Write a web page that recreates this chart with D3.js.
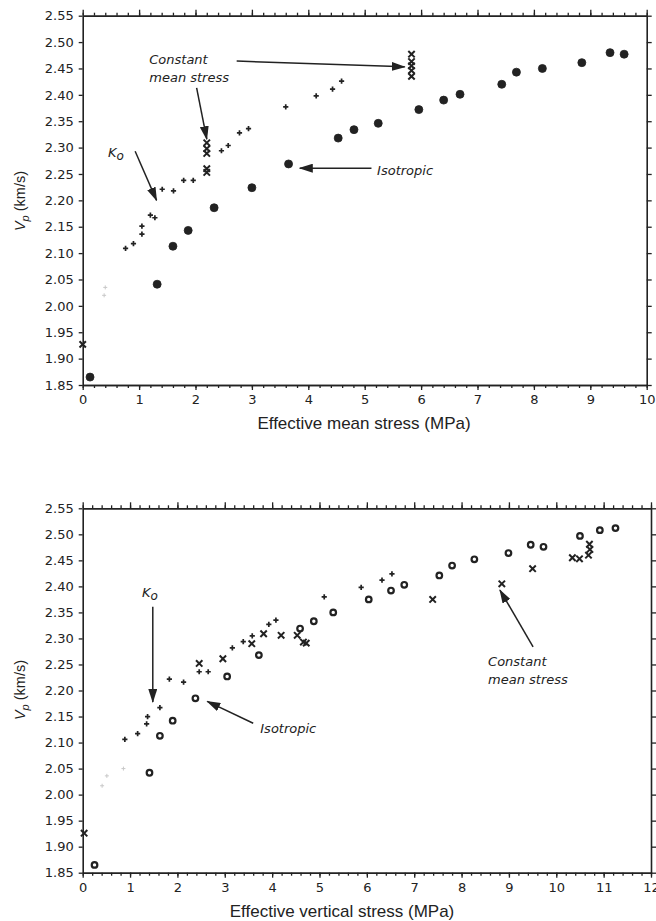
<!DOCTYPE html>
<html>
<head>
<meta charset="utf-8">
<script src="https://cdn.jsdelivr.net/npm/d3@7"></script>
<style>
  body { margin: 0; background: #fff; }
  svg { display: block; }
  .tick text { font-family: "DejaVu Sans", sans-serif; font-size: 13px; fill: #222; }
  .note { font-family: "DejaVu Sans", sans-serif; font-style: italic; font-size: 13px; fill: #222; }
  .title { font-family: "Liberation Sans", Arial, sans-serif; font-size: 17px; fill: #222; }
  .ytitle { font-family: "Liberation Sans", Arial, sans-serif; font-size: 14.5px; fill: #222; }
</style>
</head>
<body>
<svg id="chart" width="656" height="921"></svg>
<script>
// ---- shared ticks ----
const yTicks = d3.range(185, 256, 5).map(v => v / 100);   // 1.85 .. 2.55

// ---- top panel: Vp vs effective mean stress ----
const meanIsotropic = [
  [0.13, 1.865], [1.32, 2.041], [1.60, 2.113], [1.87, 2.143], [2.33, 2.186],
  [3.00, 2.224], [3.65, 2.269], [4.53, 2.318], [4.81, 2.334], [5.24, 2.346],
  [5.96, 2.372], [6.40, 2.390], [6.69, 2.401], [7.43, 2.420], [7.69, 2.443],
  [8.15, 2.450], [8.85, 2.461], [9.35, 2.480], [9.60, 2.477]
];
const meanKo = [
  [0.76, 2.109], [0.90, 2.118], [1.05, 2.136], [1.05, 2.151], [1.20, 2.172],
  [1.28, 2.167], [1.41, 2.221], [1.61, 2.218], [1.79, 2.238], [1.96, 2.238],
  [2.46, 2.294], [2.58, 2.304], [2.78, 2.328], [2.94, 2.336], [3.60, 2.377],
  [4.14, 2.398], [4.43, 2.411], [4.59, 2.426]
];
const meanKoFaint = [[0.40, 2.035], [0.38, 2.020]];
const meanConstant = [
  [0.00, 1.927],
  [2.20, 2.309], [2.20, 2.298], [2.20, 2.289], [2.20, 2.260], [2.20, 2.253],
  [5.83, 2.477], [5.83, 2.463], [5.83, 2.455], [5.83, 2.446], [5.83, 2.435]
];

// ---- bottom panel: Vp vs effective vertical stress ----
const vertIsotropic = [
  [0.25, 1.865], [1.41, 2.042], [1.63, 2.113], [1.90, 2.142], [2.38, 2.185],
  [3.05, 2.227], [3.72, 2.268], [4.59, 2.319], [4.88, 2.333], [5.29, 2.350],
  [6.04, 2.375], [6.51, 2.392], [6.79, 2.403], [7.53, 2.421], [7.80, 2.440],
  [8.27, 2.452], [8.99, 2.464], [9.46, 2.480], [9.73, 2.476], [10.50, 2.497],
  [10.92, 2.508], [11.25, 2.512]
];
const vertKo = [
  [0.89, 2.106], [1.16, 2.117], [1.35, 2.136], [1.37, 2.150], [1.63, 2.167],
  [1.83, 2.222], [2.13, 2.216], [2.46, 2.236], [2.65, 2.236], [3.16, 2.282],
  [3.39, 2.294], [3.58, 2.305], [3.93, 2.327], [4.08, 2.335], [5.10, 2.380],
  [5.88, 2.398], [6.32, 2.412], [6.53, 2.424]
];
const vertKoFaint = [[0.86, 2.050], [0.51, 2.036], [0.41, 2.017]];
const vertConstant = [
  [0.03, 1.926], [2.46, 2.252], [2.96, 2.261], [3.57, 2.290], [3.82, 2.309],
  [4.19, 2.306], [4.53, 2.306], [4.66, 2.293], [4.72, 2.291], [7.39, 2.375],
  [8.85, 2.405], [9.50, 2.434], [10.34, 2.455], [10.49, 2.453], [10.68, 2.460],
  [10.71, 2.471], [10.70, 2.481]
];

// annotations, in data units: text lines and arrows [from, to]
const meanNotes = [
  { lines: ['Constant', 'mean stress'], at: [1.18, 2.458], lead: 18 },
  { lines: ['Isotropic'], at: [5.22, 2.248], lead: 0 }
];
const meanArrows = [
  [[2.02, 2.413], [2.20, 2.316]],
  [[2.73, 2.464], [5.71, 2.453]],
  [[0.93, 2.293], [1.31, 2.200]],
  [[5.12, 2.261], [3.85, 2.261]]
];
const vertNotes = [
  { lines: ['Constant', 'mean stress'], at: [8.56, 2.247], lead: 18 },
  { lines: ['Isotropic'], at: [3.75, 2.118], lead: 0 }
];
const vertArrows = [
  [[1.48, 2.361], [1.48, 2.178]],
  [[3.60, 2.137], [2.63, 2.179]],
  [[9.51, 2.284], [8.81, 2.393]]
];

const ink = '#222';
const svg = d3.select('#chart');

svg.append('defs').append('marker')
  .attr('id', 'head')
  .attr('viewBox', '0 0 14 9')
  .attr('refX', 13).attr('refY', 4.5)
  .attr('markerWidth', 14).attr('markerHeight', 9)
  .attr('markerUnits', 'userSpaceOnUse')
  .attr('orient', 'auto')
  .append('path').attr('d', 'M0,0L14,4.5L0,9Z').attr('fill', ink);

function drawPanel(p) {
  const g = svg.append('g');
  const x = d3.scaleLinear().domain([0, p.xMax]).range([p.left, p.right]);
  const y = d3.scaleLinear().domain([1.85, 2.55]).range([p.bottom, p.top]);
  const major = d3.range(0, p.xMax + 1);
  const minor = d3.range(0, p.xMax * 5 + 1).map(i => i / 5);

  const style = sel => {
    sel.selectAll('line').attr('stroke', ink).attr('stroke-width', 1.3);
    sel.select('.domain').attr('stroke', ink).attr('stroke-width', 1.6);
  };

  g.append('g').attr('transform', `translate(${p.left},0)`)
    .call(d3.axisLeft(y).tickValues(yTicks).tickFormat(d3.format('.2f')).tickSize(4).tickSizeOuter(0).tickPadding(5))
    .call(style);
  g.append('g').attr('transform', `translate(${p.right},0)`)
    .call(d3.axisRight(y).tickValues(yTicks).tickFormat('').tickSize(5).tickSizeOuter(0))
    .call(style);
  g.append('g').attr('transform', `translate(0,${p.bottom})`)
    .call(d3.axisBottom(x).tickValues(minor).tickFormat('').tickSize(3).tickSizeOuter(0))
    .call(style);
  g.append('g').attr('transform', `translate(0,${p.bottom})`)
    .call(d3.axisBottom(x).tickValues(major).tickFormat(d3.format('d')).tickSize(5).tickSizeOuter(0).tickPadding(5))
    .call(style);
  g.append('g').attr('transform', `translate(0,${p.top})`)
    .call(d3.axisTop(x).tickValues(minor).tickFormat('').tickSize(3).tickSizeOuter(0))
    .call(style);
  g.append('g').attr('transform', `translate(0,${p.top})`)
    .call(d3.axisTop(x).tickValues(major).tickFormat('').tickSize(6).tickSizeOuter(0))
    .call(style);

  // titles
  g.append('text').attr('class', 'title')
    .attr('x', p.titleX).attr('y', p.bottom + 44)
    .attr('text-anchor', 'middle').text(p.xTitle);
  const yt = g.append('text').attr('class', 'ytitle')
    .attr('transform', `translate(25,${p.yTitleY}) rotate(-90)`)
    .attr('text-anchor', 'middle');
  yt.append('tspan').attr('font-style', 'italic').text('V');
  yt.append('tspan').attr('font-style', 'italic').attr('font-size', 11).attr('dy', 4).text('p');
  yt.append('tspan').attr('dy', -4).text(' (km/s)');

  // series
  const pts = g.append('g');
  pts.selectAll('.iso').data(p.iso).join('circle')
    .attr('cx', d => x(d[0])).attr('cy', d => y(d[1]))
    .attr('r', p.isoOpen ? 2.8 : 4)
    .attr('fill', p.isoOpen ? '#fff' : ink)
    .attr('stroke', ink).attr('stroke-width', p.isoOpen ? 2.2 : 0.8);
  pts.selectAll('.ko').data(p.ko).join('path')
    .attr('transform', d => `translate(${x(d[0])},${y(d[1])})`)
    .attr('d', 'M-2.6,0H2.6M0,-2.6V2.6')
    .attr('stroke', ink).attr('stroke-width', 1.7);
  pts.selectAll('.faint').data(p.faint).join('path')
    .attr('transform', d => `translate(${x(d[0])},${y(d[1])})`)
    .attr('d', 'M-2,0H2M0,-2V2')
    .attr('stroke', '#c8c8c8').attr('stroke-width', 1);
  pts.selectAll('.cms').data(p.cms).join('path')
    .attr('transform', d => `translate(${x(d[0])},${y(d[1])})`)
    .attr('d', 'M-3.2,-3.2L3.2,3.2M-3.2,3.2L3.2,-3.2')
    .attr('stroke', ink).attr('stroke-width', 2);

  // annotations
  g.selectAll('.arrow').data(p.arrows).join('line')
    .attr('x1', d => x(d[0][0])).attr('y1', d => y(d[0][1]))
    .attr('x2', d => x(d[1][0])).attr('y2', d => y(d[1][1]))
    .attr('stroke', ink).attr('stroke-width', 1.5)
    .attr('marker-end', 'url(#head)');
  p.notes.forEach(n => {
    n.lines.forEach((t, i) => {
      g.append('text').attr('class', 'note')
        .attr('x', x(n.at[0])).attr('y', y(n.at[1]) + i * n.lead).text(t);
    });
  });
  const ko = g.append('text').attr('class', 'note').attr('font-size', 15)
    .attr('x', x(p.koLabel[0])).attr('y', y(p.koLabel[1]));
  ko.append('tspan').text('K');
  ko.append('tspan').attr('dy', 3).attr('font-size', 12).text('o');
}

drawPanel({
  left: 82.7, right: 646.7, top: 15.7, bottom: 385, xMax: 10,
  xTitle: 'Effective mean stress (MPa)', titleX: 364, yTitleY: 201,
  iso: meanIsotropic, isoOpen: false, ko: meanKo, faint: meanKoFaint, cms: meanConstant,
  notes: meanNotes, arrows: meanArrows, koLabel: [0.45, 2.282]
});
drawPanel({
  left: 82.7, right: 651, top: 508.3, bottom: 872.7, xMax: 12,
  xTitle: 'Effective vertical stress (MPa)', titleX: 342, yTitleY: 690,
  iso: vertIsotropic, isoOpen: true, ko: vertKo, faint: vertKoFaint, cms: vertConstant,
  notes: vertNotes, arrows: vertArrows, koLabel: [1.25, 2.380]
});
</script>
</body>
</html>
